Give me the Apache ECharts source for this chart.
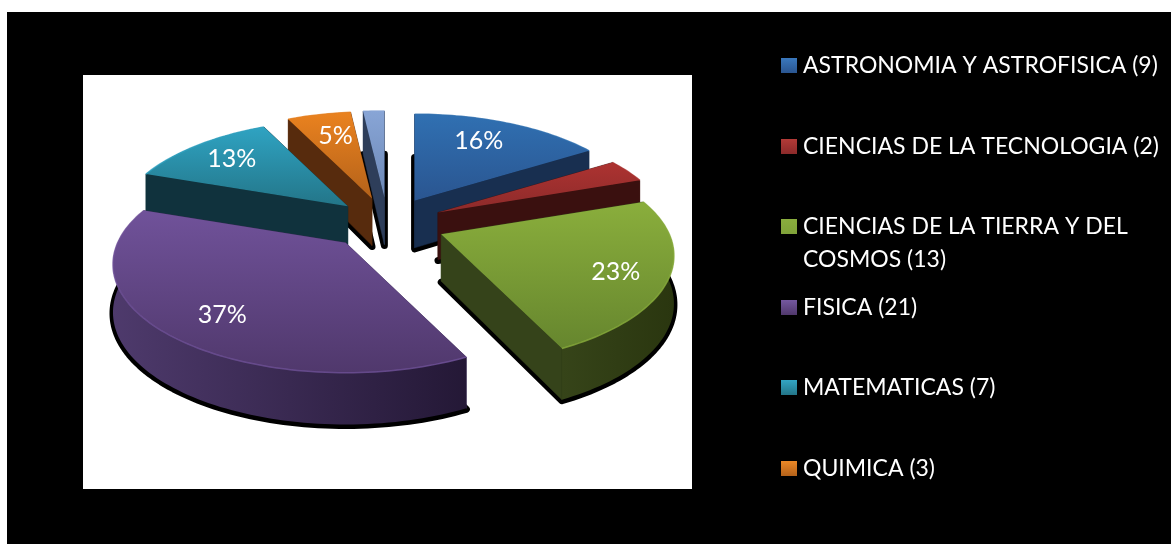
<!DOCTYPE html>
<html><head><meta charset="utf-8">
<style>html,body{margin:0;padding:0;background:#fff}#c{width:1171px;height:544px}</style>
<script src="https://cdn.jsdelivr.net/npm/echarts@6/dist/echarts.min.js"></script>
</head><body><div id="c"></div>
<script>
const categories = ['ASTRONOMIA Y ASTROFISICA (9)','CIENCIAS DE LA TECNOLOGIA (2)','CIENCIAS DE LA TIERRA Y DEL\nCOSMOS (13)','FISICA (21)','MATEMATICAS (7)','QUIMICA (3)','OTROS (1)'];
const values = [9,2,13,21,7,3,1];
const percentLabels = ['16%','','23%','37%','13%','5%',''];
const topColors = [['#3070b2','#2a5590'],['#ad3331','#8c2a2a'],['#8aae3c','#66862e'],['#70529a','#50386c'],['#2fa3c2','#237588'],['#ea821f','#b4621a'],['#88a5d6','#6c88b6']];
const sideColors = ['#182f50','#3a100f','#35431a','#3a2a55','#10323d','#572b0d','#2e3e5a'];
const wallColors = [['#1b3860','#162c4c'],['#4a1412','#381010'],['#364419','#2a360f'],['#4e3a6c','#241836'],['#133a46','#0f2f3a'],['#5d2f0e','#4d260b'],['#34466a','#2a3850']];
const legendColors = ['#3a78bd','#b23a37','#8fb340','#7558a0','#33a6c4','#ec8826'];
const legendCentres = [65.5,146.5,226.5,307.5,387.5,468.5];

const G = {cx:387.5, cy:224, ex:56, ey:26.5, A:228, B:104, p:0.2, D:47, labelR:0.75};
const explodeNudge = [[0,0],[0,0],[2,0],[-4.5,-1],[2,0],[0,0],[0,0]];
const labelNudge = [[-9,0],[0,0],[7,6],[5,7],[0,0],[5,3],[0,0]];
const total = values.reduce((a,b)=>a+b,0);
let acc = 0;
const slices = values.map((v,i)=>{const a0=acc/total*2*Math.PI; acc+=v; const a1=acc/total*2*Math.PI; return {a0,a1,mid:(a0+a1)/2,n:explodeNudge[i]};});

function proj(s, r, a){
  const X=r*Math.sin(a), Y=-r*Math.cos(a), w=1-G.p*Y;
  const tx=G.cx+s.n[0]+G.ex*Math.sin(s.mid), ty=G.cy+s.n[1]-G.ey*Math.cos(s.mid);
  return [tx+G.A*X/w, ty+G.B*Y/w, G.D*(1+0.1*Y)];
}
function arc(s){const n=Math.max(8,Math.ceil((s.a1-s.a0)*40)),o=[];for(let i=0;i<=n;i++){o.push(proj(s,1,s.a0+(s.a1-s.a0)*i/n));}return o;}
const flat=p=>[p[0],p[1]], down=p=>[p[0],p[1]+p[2]];
const LG=(x2,y2,c)=>new echarts.graphic.LinearGradient(0,0,x2,y2,[{offset:0,color:c[0]},{offset:1,color:c[1]}]);

function renderShadow(params){
  const s=slices[params.dataIndex], t=proj(s,0,0), pts=arc(s);
  const poly=[down(t)].concat(pts.map(down));
  return {type:'polygon',shape:{points:poly},style:{fill:'#000',stroke:'#000',lineWidth:7,lineJoin:'round'},position:[0,1]};
}
function faces(s,t,e){
  const m=proj(s,0.5,s.mid), ex=e[0]-t[0], ey=e[1]-t[1];
  const inner=ex*(m[1]-t[1])-ey*(m[0]-t[0]), dn=ex*1;
  return inner*dn<0;
}
function renderSlice(i){
  const s=slices[i], t=proj(s,0,0), pts=arc(s), ends=[pts[0],pts[pts.length-1]];
  const radial=e=>({type:'polygon',shape:{points:[flat(t),flat(e),down(e),down(t)]},style:{fill:sideColors[i],stroke:sideColors[i],lineWidth:0.5}});
  const hidden=ends.filter(e=>!faces(s,t,e)).map(radial), shown=ends.filter(e=>faces(s,t,e)).map(radial);
  const wall={type:'polygon',shape:{points:pts.map(flat).concat(pts.slice().reverse().map(down))},style:{fill:LG(1,0,wallColors[i])}};
  const top={type:'polygon',shape:{points:[flat(t)].concat(pts.map(flat))},style:{fill:LG(0,1,topColors[i])}};
  const rim={type:'polyline',shape:{points:pts.map(flat)},style:{fill:null,stroke:topColors[i][0],lineWidth:1.5,opacity:.8}};
  const kids=[...hidden,wall,...shown,top,rim];
  if(percentLabels[i]){
    const c=proj(s,G.labelR,s.mid);
    kids.push({type:'text',style:{text:percentLabels[i],x:c[0]+labelNudge[i][0],y:c[1]+labelNudge[i][1],fill:'#fff',font:'25px Lato',align:'center',verticalAlign:'middle'}});
  }
  return {type:'group',children:kids};
}
const order = slices.map((s,i)=>i).sort((a,b)=>Math.cos(slices[b].mid)-Math.cos(slices[a].mid));
const series = [{type:'custom',coordinateSystem:'none',name:'sombra',silent:true,z:1,data:values,renderItem:renderShadow,animation:false}];
order.forEach((i,k)=>series.push({type:'custom',coordinateSystem:'none',name:categories[i],silent:true,z:2+k,data:[values[i]],renderItem:()=>renderSlice(i),animation:false,itemStyle:{color:topColors[i][0]}}));

const tallIcon='path://M0 9H16V24H0Z M0 0h.01v.01z M0 66h.01v.01z';
const legends = legendCentres.map((y,i)=>{
  const tall=categories[i].includes('\n');
  return {left:781,top:y-16.5,orient:'vertical',padding:0,selectedMode:false,itemGap:0,itemWidth:16,itemHeight:tall?66:15,
    data:[{name:categories[i],icon:tall?tallIcon:'rect',itemStyle:{color:new echarts.graphic.LinearGradient(0,0,0,1,[{offset:0,color:legendColors[i]},{offset:1,color:topColors[i][1]}])}}],
    textStyle:{color:'#fff',fontFamily:'Lato',fontSize:23,lineHeight:33,padding:[0,0,0,1]}};
});
const chart=echarts.init(document.getElementById('c'),null,{renderer:'canvas'});
chart.setOption({animation:false,backgroundColor:'#fff',
  graphic:[{type:'rect',z:-10,silent:true,shape:{x:7,y:12,width:1164,height:532},style:{fill:'#000'}},
           {type:'rect',z:-9,silent:true,shape:{x:83,y:75,width:609,height:414},style:{fill:'#fff'}}],
  legend:legends,series});
</script></body></html>
